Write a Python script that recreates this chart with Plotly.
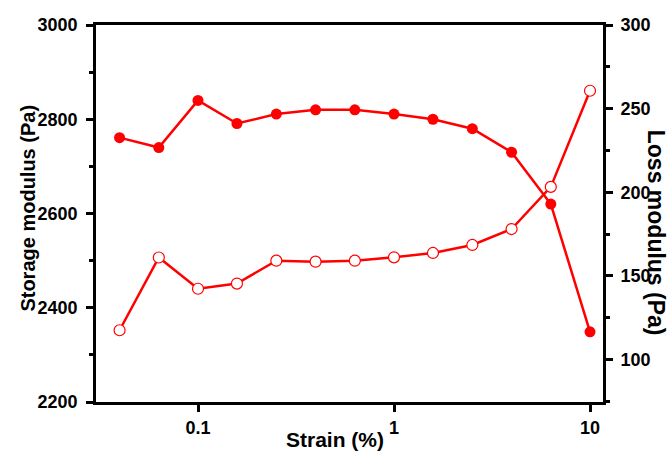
import plotly.graph_objects as go

strain = [0.0398, 0.0631, 0.1, 0.158, 0.251, 0.398, 0.631, 1.0, 1.58, 2.51, 3.98, 6.31, 10.0]
storage = [2761, 2740, 2840, 2791, 2811, 2820, 2820, 2811, 2800, 2780, 2730, 2620, 2349]
loss = [117.5, 161, 142.3, 145.4, 159.1, 158.5, 159.1, 161.1, 163.7, 168.5, 178, 203.2, 260.7]

x_ticks = [0.1, 1, 10]
x_ticklabels = ["0.1", "1", "10"]
y1_ticks = [2200, 2400, 2600, 2800, 3000]
y2_ticks = [100, 150, 200, 250, 300]

RED = "#FF0000"
FONT = "Liberation Sans"

fig = go.Figure()
fig.add_trace(go.Scatter(
    x=strain, y=loss, yaxis="y2", mode="lines+markers",
    line=dict(color=RED, width=2.5),
    marker=dict(symbol="circle", size=11, color="white", line=dict(color=RED, width=1.2)),
    showlegend=False, cliponaxis=False))
fig.add_trace(go.Scatter(
    x=strain, y=storage, mode="lines+markers",
    line=dict(color=RED, width=2.5),
    marker=dict(symbol="circle", size=11, color=RED, line=dict(width=0)),
    showlegend=False, cliponaxis=False))

tickfont = dict(family=FONT, size=18, color="black", weight="bold")
fig.update_layout(
    width=670, height=453,
    margin=dict(l=96, r=67, t=25, b=51),
    paper_bgcolor="white", plot_bgcolor="white",
    xaxis=dict(type="log", range=[-1.5204, 1.0663],
               tickvals=x_ticks, ticktext=x_ticklabels,
               showline=True, linecolor="black", linewidth=2.7, mirror=True,
               ticks="outside", ticklen=7, tickwidth=2.5, tickcolor="black",
               showgrid=False, zeroline=False, tickfont=tickfont,
               ticklabelstandoff=1),
    yaxis=dict(range=[2200, 3000], tickvals=y1_ticks,
               showline=True, linecolor="black", linewidth=2.7,
               ticks="outside", ticklen=7, tickwidth=2.5, tickcolor="black",
               minor=dict(dtick=100, ticks="outside", ticklen=4, tickwidth=2.5, tickcolor="black"),
               showgrid=False, zeroline=False, tickfont=tickfont,
               ticklabelstandoff=5),
    yaxis2=dict(range=[74.6, 300], tickvals=y2_ticks, overlaying="y", side="right",
                showline=True, linecolor="black", linewidth=2.7,
                ticks="outside", ticklen=7, tickwidth=2.5, tickcolor="black",
                minor=dict(dtick=25, ticks="outside", ticklen=4, tickwidth=2.5, tickcolor="black"),
                showgrid=False, zeroline=False, tickfont=tickfont,
                ticklabelstandoff=4),
    annotations=[
        dict(text="Storage modulus (Pa)", xref="paper", yref="paper",
             x=-0.1341, y=0.513, xanchor="center", yanchor="middle", textangle=-90,
             showarrow=False, font=dict(family=FONT, size=20, color="black", weight="bold")),
        dict(text="Loss modulus (Pa)", xref="paper", yref="paper",
             x=1.106, y=0.4496, xanchor="center", yanchor="middle", textangle=90,
             showarrow=False, font=dict(family=FONT, size=23, color="black", weight="bold")),
        dict(text="Strain (%)", xref="paper", yref="paper",
             x=0.4714, y=-0.1340, xanchor="center", yanchor="bottom",
             showarrow=False, font=dict(family=FONT, size=21, color="black", weight="bold")),
    ],
)

fig.write_html("out.html", config={"displayModeBar": False},
               post_script="document.body.style.margin='0';document.body.style.overflow='hidden';")
